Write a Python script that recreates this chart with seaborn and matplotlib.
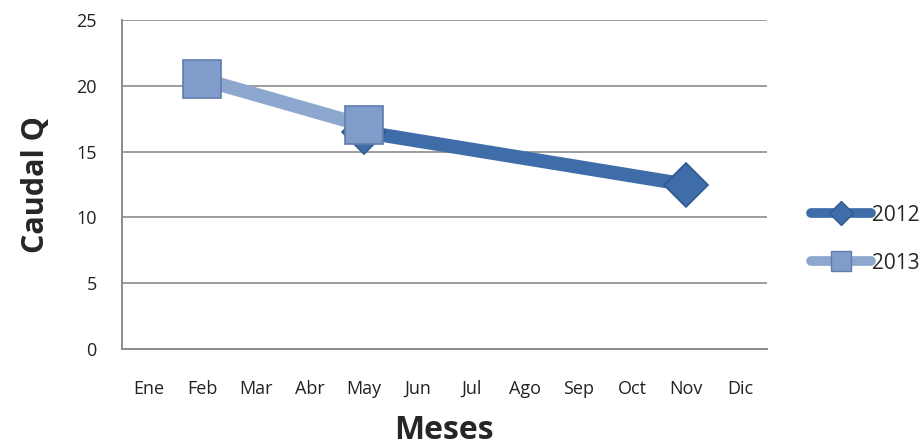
import pandas as pd
import seaborn as sns
import matplotlib.pyplot as plt
from matplotlib.lines import Line2D

# datos
meses = ["Ene", "Feb", "Mar", "Abr", "May", "Jun", "Jul", "Ago", "Sep", "Oct", "Nov", "Dic"]
meses_2012 = ["May", "Nov"]
caudal_2012 = [16.5, 12.5]
meses_2013 = ["Feb", "May"]
caudal_2013 = [20.5, 17.0]

filas = []
for m, q in zip(meses_2012, caudal_2012):
    filas.append({"mes": meses.index(m), "caudal": q, "anio": "2012"})
for m, q in zip(meses_2013, caudal_2013):
    filas.append({"mes": meses.index(m), "caudal": q, "anio": "2013"})
df = pd.DataFrame(filas)

sns.set_theme(style="white")
plt.rcParams["font.family"] = ["Open Sans", "DejaVu Sans"]

fig = plt.figure(figsize=(9.22, 4.48), dpi=100)
ax = fig.add_axes([0.132, 0.221, 0.7, 0.734])

colores = {"2012": "#3E6DA9", "2013": "#8DA7CE"}
marcadores = {"2012": "D", "2013": "s"}
bordes = {"2012": "#2F5A8E", "2013": "#5F7CAA"}
relleno = {"2012": "#3E6DA9", "2013": "#7F9CCB"}
tam = {"2012": 22, "2013": 27}

for anio in ["2012", "2013"]:
    d = df[df["anio"] == anio]
    sns.lineplot(data=d, x="mes", y="caudal", ax=ax, color=colores[anio],
                 linewidth=10, marker=marcadores[anio], markersize=tam[anio],
                 markerfacecolor=relleno[anio], markeredgecolor=bordes[anio],
                 markeredgewidth=1.2, legend=False, zorder=3 if anio == "2013" else 2,
                 solid_capstyle="butt")

ax.set_xlim(-0.5, 11.5)
ax.set_ylim(0, 25)
ax.set_xticks(range(len(meses)))
ax.set_xticklabels(meses)
ax.set_yticks([0, 5, 10, 15, 20, 25])
ax.tick_params(axis="both", labelsize=13, colors="#222222", length=0)
ax.tick_params(axis="x", pad=22)
ax.tick_params(axis="y", pad=18)
ax.yaxis.grid(True, color="#8C8C8C", linewidth=1.2)
ax.xaxis.grid(False)
for lado in ["top", "right"]:
    ax.spines[lado].set_visible(False)
for lado in ["left", "bottom"]:
    ax.spines[lado].set_color("#8C8C8C")
    ax.spines[lado].set_linewidth(1.4)

ax.set_xlabel("Meses", fontsize=23, fontweight="bold", labelpad=12)
ax.set_ylabel("Caudal Q", fontsize=22, fontweight="bold", labelpad=18)

handles = [
    Line2D([], [], color=colores[a], linewidth=7, solid_capstyle="round",
           marker=marcadores[a], markersize=12 if a == "2012" else 14,
           markerfacecolor=relleno[a], markeredgecolor=bordes[a])
    for a in ["2012", "2013"]
]
ax.legend(handles, ["2012", "2013"], loc="center left", bbox_to_anchor=(1.055, 0.334),
          frameon=False, fontsize=15, handlelength=2.9, labelspacing=1.3,
          handletextpad=0.05, borderaxespad=0)

plt.savefig("out.png", dpi=100)
